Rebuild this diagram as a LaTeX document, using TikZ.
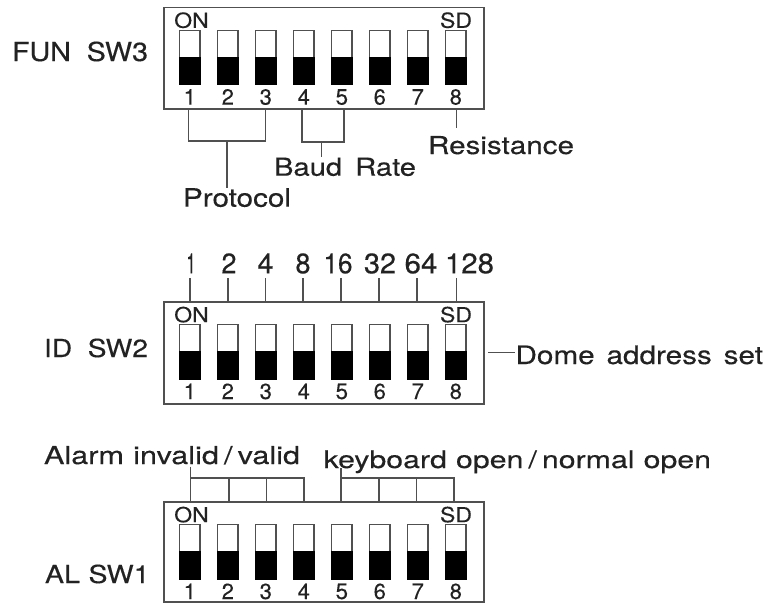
\documentclass[tikz,border=0pt]{standalone}
\usepackage{fontspec}
\setmainfont[RawFeature={embolden=0.25}]{TeX Gyre Heros}
\newdimen\pxu \pxu=0.75pt
\definecolor{ink}{HTML}{222222}
\definecolor{wirecol}{HTML}{505050}
\tikzset{
  lbl/.style={inner sep=0pt,outer sep=0pt,anchor=base west,text=ink},
  lblc/.style={inner sep=0pt,outer sep=0pt,anchor=base,text=ink},
  wire/.style={draw=wirecol,line width=1.5\pxu},
  dipframe/.style={draw=wirecol,line width=1.7\pxu,inner sep=0pt,outer sep=0pt,anchor=north west,minimum width=320\pxu},
  lever/.style={draw=wirecol,fill=white,line width=1.5\pxu,inner sep=0pt,outer sep=0pt,anchor=north,minimum width=20.5\pxu,minimum height=27\pxu},
  slider/.style={fill=black,draw=black,line width=0.6\pxu,inner sep=0pt,outer sep=0pt,anchor=north,minimum width=21.4\pxu,minimum height=27.4\pxu},
}
% label: name, x, baseline y, width, height, text
\newcommand\tlabel[6]{\node[lbl] (#1) at (#2,#3) {\resizebox{#4\pxu}{#5\pxu}{#6}};}
\newcommand\clabel[6]{\node[lblc] (#1) at (#2,#3) {\resizebox{#4\pxu}{#5\pxu}{#6}};}
% dip switch block: name, top y, height
\newcommand\dipblock[3]{%
  \node[dipframe,minimum height=#3\pxu] (#1) at (164.2,#2) {};
  \pgfmathsetmacro\ytop{#2+22.7}
  \pgfmathsetmacro\yblk{#2+49.5}
  \pgfmathsetmacro\ynum{#2+97}
  \pgfmathsetmacro\yon{#2+20.2}
  \foreach \i in {1,...,8}{
    \pgfmathsetmacro\xc{189.8+38*(\i-1)}
    \node[lever] (#1-\i) at (\xc,\ytop) {};
    \node[slider] (#1-\i b) at (\xc,\yblk) {};
    \node[lblc] (#1-n\i) at (\xc,\ynum) {\resizebox{!}{15.5\pxu}{\i}};
  }
  \node[lblc] (#1-on) at (191.5,\yon) {\resizebox{34.5\pxu}{15.5\pxu}{ON}};
  \node[lblc] (#1-sd) at (456,\yon) {\resizebox{32\pxu}{15.5\pxu}{SD}};
}
\begin{document}
\begin{tikzpicture}[x=0.75pt,y=-0.75pt]
\useasboundingbox (0,0) rectangle (764,603);
\dipblock{swc}{7.6}{101.6}
\dipblock{swb}{302}{101.7}
\dipblock{swa}{502}{100}

% FUN SW3
\tlabel{funl}{12}{61}{136}{19.5}{FUN\hspace{0.55em}SW3}
\tlabel{resl}{428}{154}{146}{18}{Resistance}
\tlabel{baudl}{274}{175.7}{142}{18}{Baud\hspace{0.45em}Rate}
\tlabel{protl}{183}{206.7}{108}{18.5}{Protocol}
\coordinate (p1) at (188.5,109.2);
\coordinate (p3) at (265.5,109.2);
\coordinate (pj) at (227,141);
\coordinate (pe) at (227,187.7);
\coordinate (b4) at (302,109.2);
\coordinate (b5) at (344,109.2);
\coordinate (bj) at (321.5,142);
\coordinate (be) at (321.5,157);
\coordinate (r8) at (456.5,109.2);
\coordinate (re) at (456.5,128);
\draw[wire] (p1) |- (pj) -| (p3);
\draw[wire] (pj) -- (pe);
\draw[wire] (b4) |- (bj) -| (b5);
\draw[wire] (bj) -- (be);
\draw[wire] (r8) -- (re);

% ID SW2
\tlabel{idl}{44}{357}{104}{18.5}{ID\hspace{0.55em}SW2}
\clabel{w1}{191}{273.3}{9}{20}{1}
\clabel{w2}{229}{273.3}{15}{20}{2}
\clabel{w4}{265.5}{273.3}{16}{20}{4}
\clabel{w8}{303}{273.3}{15}{20}{8}
\clabel{w16}{338}{273.3}{29}{20}{16}
\clabel{w32}{380}{273.3}{32}{20}{32}
\clabel{w64}{421}{273.3}{33}{20}{64}
\clabel{w128}{469.5}{273.3}{49}{20}{128}
\foreach \xp/\nm in {190/a,228/b,265.5/c,303/d,341/e,379/f,417/g,456.5/h}{
  \coordinate (t\nm) at (\xp,278);
  \coordinate (u\nm) at (\xp,302);
  \draw[wire] (t\nm) -- (u\nm);
}
\tlabel{doml}{515.5}{364}{247.5}{18.5}{Dome\hspace{0.4em}address\hspace{0.4em}set}
\coordinate (d0) at (488,352.7);
\coordinate (d1) at (515,352.7);
\draw[wire] (d0) -- (d1);

% AL SW1
\tlabel{all}{45}{583}{104.5}{18.5}{AL\hspace{0.3em}SW1}
\tlabel{alarml}{44}{464}{256}{18}{Alarm\hspace{0.3em}invalid\,/\,valid}
\tlabel{keyl}{323.5}{468}{387.5}{17.5}{keyboard\hspace{0.3em}open\,/\,normal\hspace{0.3em}open}
\coordinate (a1t) at (190.5,466.7);
\coordinate (a1) at (190.5,502);
\coordinate (a2) at (229,502);
\coordinate (a3) at (266.7,502);
\coordinate (a4) at (304,502);
\coordinate (aj) at (190.5,478);
\draw[wire] (a1t) -- (a1);
\draw[wire] (aj) -| (a4);
\draw[wire] (a2) -- (a2 |- aj);
\draw[wire] (a3) -- (a3 |- aj);
\coordinate (k1t) at (341,468);
\coordinate (k1) at (341,502);
\coordinate (k2) at (379,502);
\coordinate (k3) at (416.7,502);
\coordinate (k4) at (454,502);
\coordinate (kj) at (341,478);
\draw[wire] (k1t) -- (k1);
\draw[wire] (kj) -| (k4);
\draw[wire] (k2) -- (k2 |- kj);
\draw[wire] (k3) -- (k3 |- kj);
\end{tikzpicture}
\end{document}
